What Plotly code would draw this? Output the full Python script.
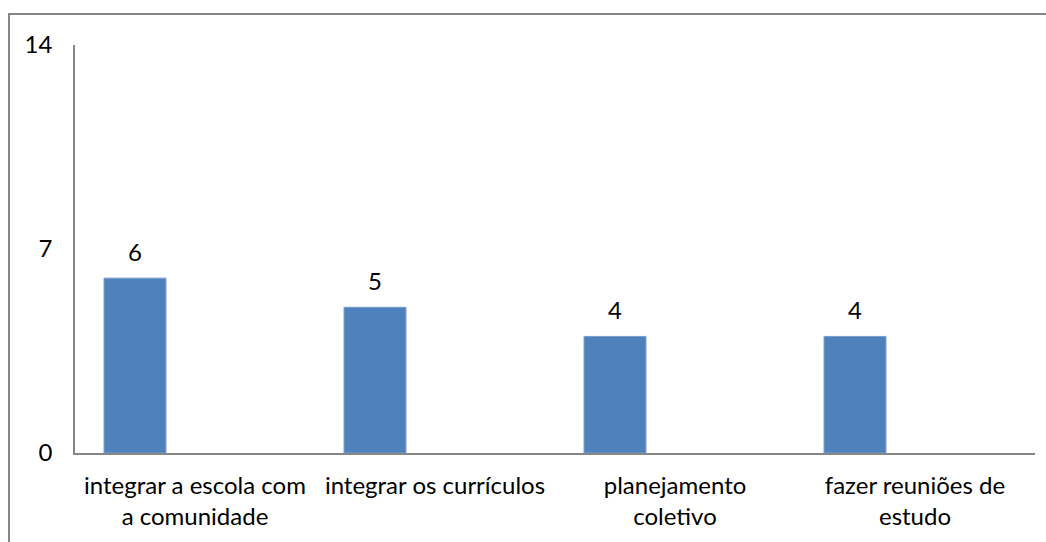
import plotly.graph_objects as go

categories = ["integrar a escola com<br>a comunidade", "integrar os currículos",
              "planejamento<br>coletivo", "fazer reuniões de<br>estudo"]
values = [6, 5, 4, 4]
y_ticks = [0, 7, 14]

FONT = "Lato"
FS = 24
fig = go.Figure()
fig.add_trace(go.Bar(
    x=categories, y=values,
    width=0.258, offset=-0.379,
    marker=dict(color="#4F81BD", line=dict(color="#7A9CCB", width=1)),
    cliponaxis=False,
))

annotations = [dict(x=c, y=v, text=str(v), showarrow=False, xshift=-60, yshift=27,
                    yanchor="middle", xanchor="center",
                    font=dict(family=FONT, size=FS, color="black"))
               for c, v in zip(categories, values)]

fig.update_layout(
    width=1046, height=542,
    margin=dict(l=75, r=11, t=45, b=89),
    paper_bgcolor="white", plot_bgcolor="white",
    showlegend=False,
    font=dict(family=FONT, size=FS, color="black"),
    annotations=annotations,
    xaxis=dict(showline=True, linecolor="#868686", linewidth=1.5, showgrid=False,
               ticks="outside", ticklen=10, tickcolor="rgba(0,0,0,0)",
               tickfont=dict(family=FONT, size=FS, color="black")),
    yaxis=dict(range=[0, 14], tickvals=y_ticks, showline=True, linecolor="#868686",
               linewidth=1.5, showgrid=False, zeroline=False,
               ticks="outside", ticklen=16, tickcolor="rgba(0,0,0,0)",
               tickfont=dict(family=FONT, size=FS, color="black")),
    shapes=[dict(type="rect", xref="paper", yref="paper",
                 x0=(9 - 75) / 960, x1=(1060 - 75) / 960,
                 y0=(453 - 560) / 408, y1=(453 - 14) / 408,
                 line=dict(color="#868686", width=2), fillcolor="rgba(0,0,0,0)",
                 layer="below")],
)
fig.write_html("out.html", config={"displayModeBar": False},
               post_script="document.body.style.margin='0';document.body.style.overflow='hidden';")
